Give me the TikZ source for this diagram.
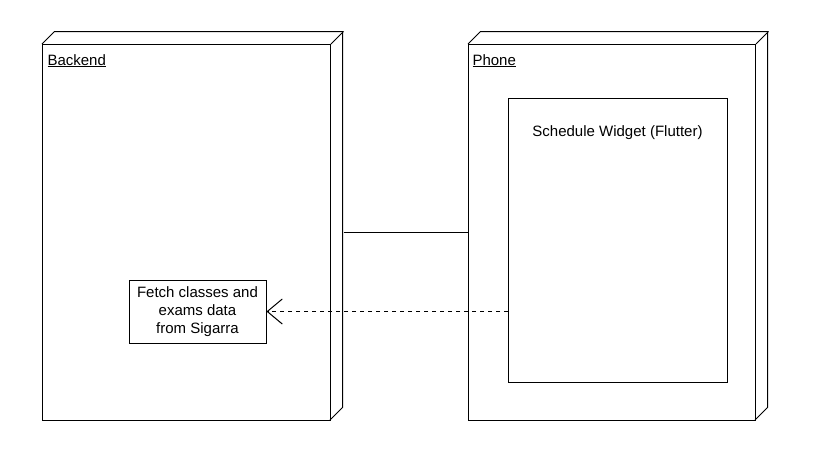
\documentclass[tikz,border=0pt]{standalone}
\usepackage{fontspec}
\setmainfont{Liberation Sans}
\usetikzlibrary{arrows.meta}
\begin{document}
\begin{tikzpicture}[x=1pt, y=-1pt, line width=1pt,
	caja/.style={draw, inner sep=0pt, anchor=north west},
	texto/.style={font=\fontsize{15}{18}\selectfont}]
	\useasboundingbox (0,0) rectangle (813,475);
	% Nodo Backend
		\node[caja, minimum width=288pt, minimum height=376pt] (backend) at (42,44) {};
		\draw (backend.north west) -- ++(12.5,-12.5) -- ++(288,0) -- ++(0,376) -- ++(-12.5,12.5);
		\draw (backend.north east) -- ++(12.5,-12.5);
		\node[texto, anchor=base west, inner sep=0pt] (backendlabel) at (47,65) {\underline{Backend}};
		\node[texto, draw, align=center, minimum width=137pt, minimum height=63pt, inner sep=0pt] (fetch) at (197.5,311.5) {Fetch classes and\\exams data\\from Sigarra};
	
	% Nodo Phone
		\node[caja, minimum width=287pt, minimum height=376pt] (phone) at (468,44) {};
		\draw (phone.north west) -- ++(12.5,-12.5) -- ++(287,0) -- ++(0,376) -- ++(-12.5,12.5);
		\draw (phone.north east) -- ++(12.5,-12.5);
		\node[texto, anchor=base west, inner sep=0pt] (phonelabel) at (472,65) {\underline{Phone}};
		\node[caja, minimum width=219pt, minimum height=284pt] (widget) at (508,98) {};
		\node[texto] (widgetlabel) at (617.5,133) {Schedule Widget (Flutter)};
	
	% Conexiones
		\draw ([xshift=12.5pt]backend.east) -- (phone.west);
		\draw[dash pattern=on 4pt off 4pt, -{Straight Barb[length=15pt, width=25pt]}] (widget.west |- fetch.east) -- (fetch.east);
\end{tikzpicture}
\end{document}
